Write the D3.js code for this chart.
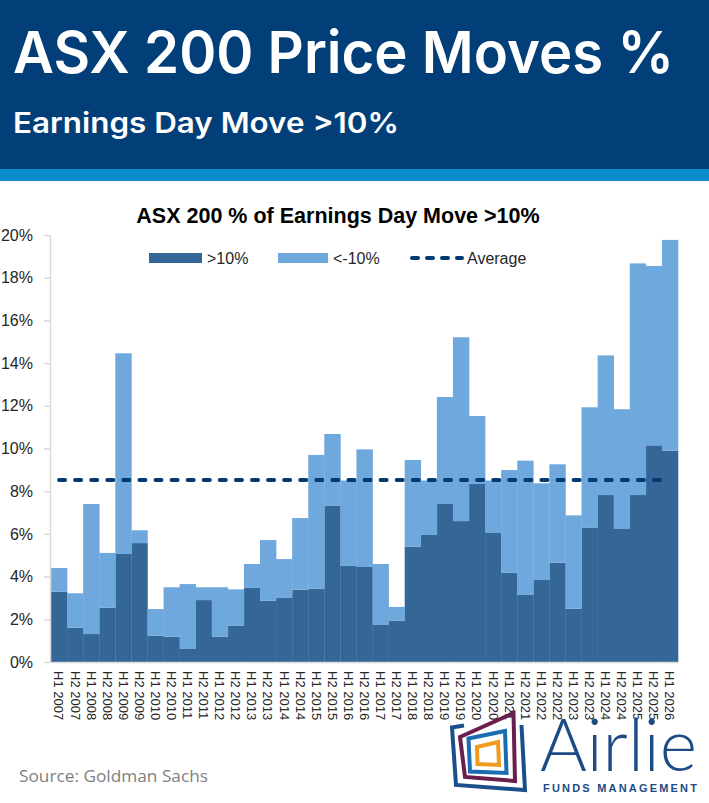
<!DOCTYPE html>
<html lang="en">
<head>
    <meta charset="UTF-8">
    <title>ASX 200 Price Moves %</title>
    <script src="https://cdn.jsdelivr.net/npm/d3@7"></script>
    <style>
        html, body {
            margin: 0;
            padding: 0;
            background: white;
        }
        svg {
            display: block;
        }
    </style>
</head>
<body>
<div id="chart"></div>
<script>
    // half-year periods
    let periods = ["H1 2007", "H2 2007", "H1 2008", "H2 2008", "H1 2009", "H2 2009", "H1 2010", "H2 2010",
        "H1 2011", "H2 2011", "H1 2012", "H2 2012", "H1 2013", "H2 2013", "H1 2014", "H2 2014",
        "H1 2015", "H2 2015", "H1 2016", "H2 2016", "H1 2017", "H2 2017", "H1 2018", "H2 2018",
        "H1 2019", "H2 2019", "H1 2020", "H2 2020", "H1 2021", "H2 2021", "H1 2022", "H2 2022",
        "H1 2023", "H2 2023", "H1 2024", "H2 2024", "H1 2025", "H2 2025", "H1 2026"];

    // % of stocks moving more than +10% on earnings day
    let up10 = [3.29, 1.61, 1.31, 2.54, 5.06, 5.57, 1.23, 1.19, 0.61, 2.90, 1.19, 1.69, 3.47, 2.87, 3.00, 3.39,
        3.43, 7.31, 4.50, 4.45, 1.76, 1.94, 5.40, 5.95, 7.43, 6.60, 8.34, 6.07, 4.18, 3.14, 3.84, 4.65,
        2.50, 6.28, 7.82, 6.23, 7.82, 10.15, 9.90];

    // % of stocks moving more than -10% (stacked on top)
    let down10 = [1.11, 1.61, 6.09, 2.57, 9.40, 0.60, 1.25, 2.31, 3.04, 0.60, 2.31, 1.71, 1.12, 2.84, 1.82, 3.35,
        6.27, 3.37, 4.00, 5.51, 2.83, 0.64, 4.06, 2.55, 4.98, 8.61, 3.18, 2.43, 4.81, 6.29, 4.53, 4.61,
        4.37, 5.65, 6.54, 5.61, 10.85, 8.40, 9.87];

    let average = 8.52;
    let yTicks = [0, 2, 4, 6, 8, 10, 12, 14, 16, 18, 20];

    let W = 709, H = 803;
    let cDark = "#346798", cLight = "#6fa8dc", cAvg = "#003a70", cAxis = "#d9d9d9";

    let svg = d3.select("#chart").append("svg")
        .attr("width", W).attr("height", H);

    // ---- header banner ----
    svg.append("rect").attr("x", 0).attr("y", 0).attr("width", W).attr("height", 169).attr("fill", "#023f78");
    svg.append("rect").attr("x", 0).attr("y", 169).attr("width", W).attr("height", 12).attr("fill", "#0a8bcb");

    svg.append("text")
        .text("ASX 200 Price Moves %")
        .attr("x", 13).attr("y", 73)
        .attr("textLength", 661).attr("lengthAdjust", "spacingAndGlyphs")
        .style("font", "600 58px Inter, 'Liberation Sans', sans-serif")
        .attr("fill", "white");

    svg.append("text")
        .text("Earnings Day Move >10%")
        .attr("x", 13).attr("y", 133)
        .attr("textLength", 386).attr("lengthAdjust", "spacingAndGlyphs")
        .style("font", "600 28px Inter, 'Liberation Sans', sans-serif")
        .attr("fill", "white");

    // ---- chart ----
    let x = d3.scaleBand().domain(periods).range([51, 678]).padding(0);
    let y = d3.scaleLinear().domain([0, 20]).range([662, 235]);

    svg.append("text")
        .text("ASX 200 % of Earnings Day Move >10%")
        .attr("x", 338).attr("y", 223)
        .style("font", "bold 21.5px 'Liberation Sans', Arial, sans-serif")
        .style("text-anchor", "middle")
        .attr("fill", "black");

    let rows = periods.map(function (p, i) {
        return {period: p, up: up10[i], down: down10[i]};
    });
    let series = d3.stack().keys(["up", "down"])(rows);

    svg.append("g").selectAll("g")
        .data(series)
        .enter().append("g")
        .attr("fill", function (d, i) {
            return i === 0 ? cDark : cLight;
        })
        .selectAll("rect")
        .data(function (d) { return d; })
        .enter().append("rect")
        .attr("x", function (d) { return x(d.data.period); })
        .attr("width", x.bandwidth() + 0.3)
        .attr("y", function (d) { return y(d[1]); })
        .attr("height", function (d) { return y(d[0]) - y(d[1]); });

    // x axis
    let xAxis = svg.append("g")
        .attr("transform", "translate(0,662)")
        .call(d3.axisBottom(x).tickSize(0).tickSizeOuter(0));
    xAxis.select(".domain").attr("stroke", cAxis).attr("stroke-width", 1.5);
    xAxis.selectAll("text")
        .attr("transform", "rotate(90)")
        .attr("x", 9).attr("y", 0).attr("dy", "0.35em")
        .style("text-anchor", "start")
        .style("font", "13px 'Liberation Sans', Arial, sans-serif")
        .attr("fill", "#262626");

    // y axis
    let yAxis = svg.append("g")
        .attr("transform", "translate(50,0)")
        .call(d3.axisLeft(y).tickValues(yTicks).tickSize(6).tickSizeOuter(0).tickPadding(11)
            .tickFormat(function (d) { return d + "%"; }));
    yAxis.select(".domain").attr("stroke", cAxis).attr("stroke-width", 1.5);
    yAxis.selectAll(".tick line").attr("stroke", cAxis).attr("stroke-width", 1.5);
    yAxis.selectAll("text")
        .style("font", "16px 'Liberation Sans', Arial, sans-serif")
        .attr("fill", "#262626");

    // average line
    let avgLine = d3.line()
        .x(function (d) { return x(d) + x.bandwidth() / 2; })
        .y(function () { return y(average); });
    svg.append("path")
        .attr("d", avgLine([periods[0], periods[periods.length - 1]]))
        .attr("fill", "none")
        .attr("stroke", cAvg)
        .attr("stroke-width", 4)
        .attr("stroke-linecap", "round")
        .attr("stroke-dasharray", "6,10.08");

    // legend
    let legend = svg.append("g").style("font", "16px 'Liberation Sans', Arial, sans-serif");
    legend.append("rect").attr("x", 149).attr("y", 253).attr("width", 53).attr("height", 10).attr("fill", cDark);
    legend.append("text").text(">10%").attr("x", 207).attr("y", 264).attr("fill", "#262626");
    legend.append("rect").attr("x", 278).attr("y", 253).attr("width", 50).attr("height", 10).attr("fill", cLight);
    legend.append("text").text("<-10%").attr("x", 333).attr("y", 264).attr("fill", "#262626");
    legend.append("line")
        .attr("x1", 412).attr("x2", 462).attr("y1", 258).attr("y2", 258)
        .attr("stroke", cAvg).attr("stroke-width", 4)
        .attr("stroke-linecap", "round").attr("stroke-dasharray", "6,9");
    legend.append("text").text("Average").attr("x", 467).attr("y", 264).attr("fill", "#262626");

    // ---- footer ----
    svg.append("text")
        .text("Source: Goldman Sachs")
        .attr("x", 19).attr("y", 782)
        .attr("textLength", 189).attr("lengthAdjust", "spacingAndGlyphs")
        .style("font", "17px 'Open Sans', sans-serif")
        .attr("fill", "#7f7f7f");

    // Airlie logo
    let logo = svg.append("g").attr("fill", "none").attr("stroke-width", 4).attr("stroke-linejoin", "miter");
    logo.append("path")
        .attr("d", "M464,725.5 L452,727.5 L456,785 L525,790 L521.5,725")
        .attr("stroke", "#1b4f8c");
    logo.append("path")
        .attr("d", "M460,737 L513.5,713 L515,781 L465,777 Z")
        .attr("stroke", "#6a1e4e");
    logo.append("path")
        .attr("d", "M468.5,738.5 L505,731 L506.5,773 L470,771.5 Z")
        .attr("stroke", "#1a6db3");
    logo.append("path")
        .attr("d", "M477,747 L498,742 L499,765 L477.5,764 Z")
        .attr("stroke", "#f29a1f");

    svg.append("text")
        .text("Airlie")
        .attr("x", 540).attr("y", 771)
        .attr("textLength", 157).attr("lengthAdjust", "spacingAndGlyphs")
        .style("font", "300 72px Lato, 'Open Sans', sans-serif")
        .attr("fill", "#1d4b86");
    svg.append("text")
        .text("FUNDS MANAGEMENT")
        .attr("x", 543).attr("y", 792)
        .attr("textLength", 154).attr("lengthAdjust", "spacing")
        .style("font", "bold 11px 'Liberation Sans', Arial, sans-serif")
        .attr("fill", "#1d4b86");
</script>
</body>
</html>
